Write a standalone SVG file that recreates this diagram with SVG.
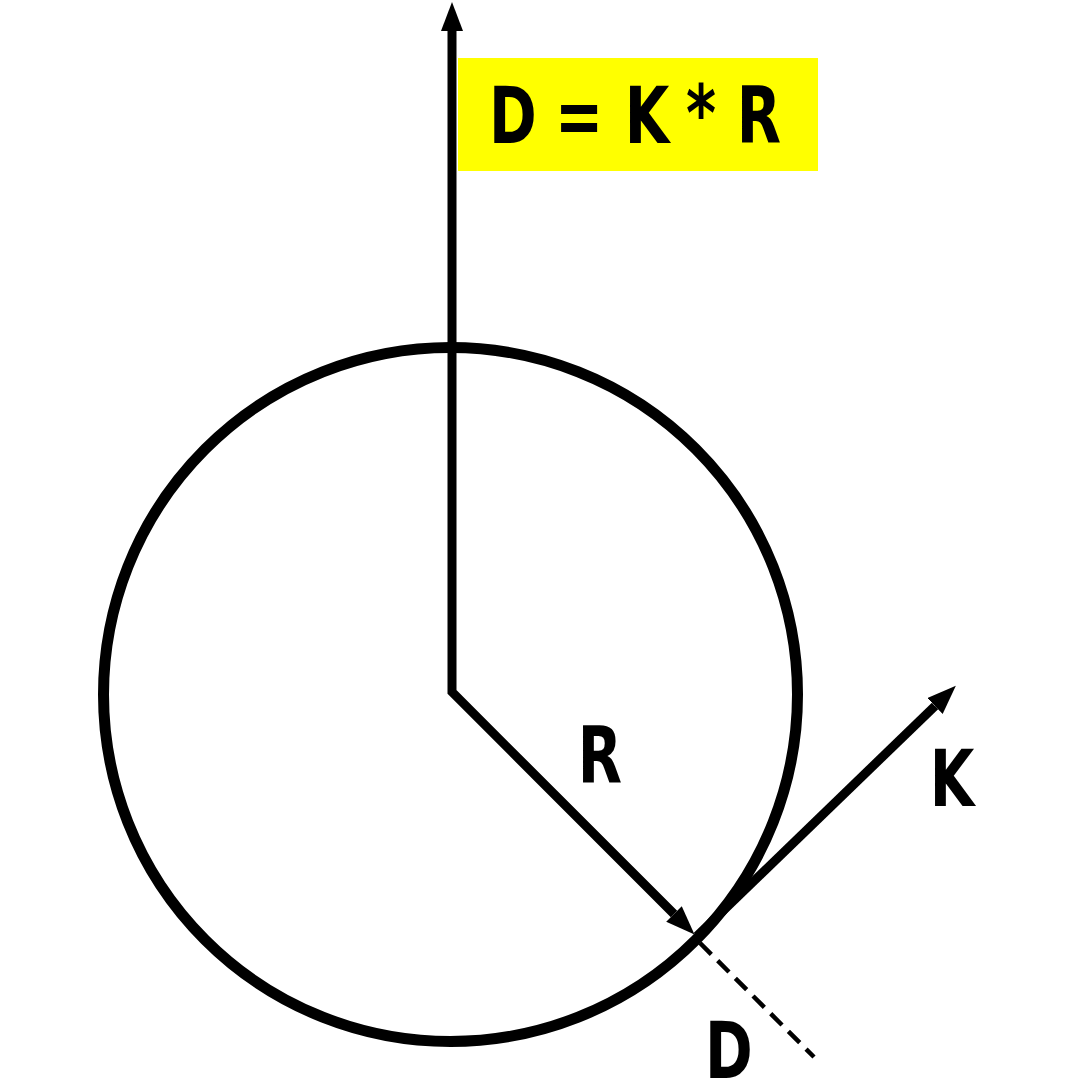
<svg xmlns="http://www.w3.org/2000/svg" width="1080" height="1080" viewBox="0 0 1080 1080">
  <style>
    .lbl { font-family: "Liberation Sans Narrow", "DejaVu Sans Condensed", "Liberation Sans", sans-serif; font-weight: bold; font-size: 78px; fill: #000; text-anchor: middle; }
    .ln { fill: none; stroke: #000; stroke-width: 9; stroke-linejoin: miter; }
    .dash { fill: none; stroke: #000; stroke-width: 4.5; stroke-dasharray: 16 9; }
  </style>
  <defs>
    <marker id="arrow" viewBox="0 -11 29 22" markerWidth="29" markerHeight="22" refX="0" refY="0" markerUnits="userSpaceOnUse" orient="auto-start-reverse">
      <path d="M0,-11 L29,0 L0,11 Z" fill="#000"/>
    </marker>
  </defs>
  <rect width="1080" height="1080" fill="#fff"/>
  <g id="formula">
    <rect x="458" y="58" width="360" height="113" fill="#ffff00"/>
    <text class="lbl" transform="translate(513,143) scale(0.82,1)">D</text>
    <text class="lbl" transform="translate(579,143) scale(0.82,1)">=</text>
    <text class="lbl" transform="translate(647,143) scale(0.82,1)">K</text>
    <text class="lbl" transform="translate(701,141) scale(0.82,1)">*</text>
    <text class="lbl" transform="translate(759,143) scale(0.82,1)">R</text>
  </g>
  <g id="circle">
    <circle cx="450.5" cy="694.5" r="347" fill="none" stroke="#000" stroke-width="11"/>
  </g>
  <g id="connectors">
    <path class="ln" d="M452,31 L452,692 L674,914" marker-start="url(#arrow)" marker-end="url(#arrow)"/>
    <path class="ln" d="M697,936 L935,706" marker-end="url(#arrow)"/>
    <path class="dash" d="M700,943 L814,1057"/>
  </g>
  <g id="label-R"><text class="lbl" transform="translate(600,783) scale(0.82,1)">R</text></g>
  <g id="label-K"><text class="lbl" transform="translate(952,806) scale(0.82,1)">K</text></g>
  <g id="label-D"><text class="lbl" transform="translate(729,1078) scale(0.82,1)">D</text></g>
</svg>
